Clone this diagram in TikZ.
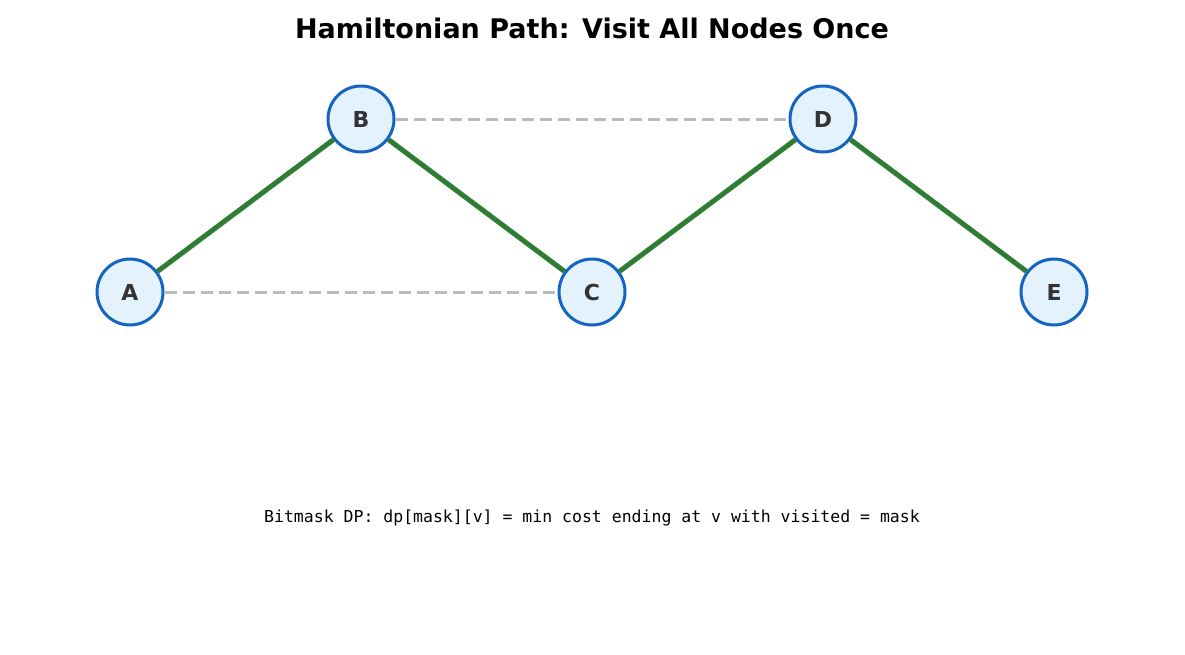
\documentclass[tikz,border=0pt]{standalone}
\usepackage{fontspec}
\setmainfont{DejaVu Sans}
\setmonofont{DejaVu Sans Mono}
\definecolor{nodeb}{HTML}{1565C0}
\definecolor{nodef}{HTML}{E3F2FD}
\definecolor{pathg}{HTML}{2E7D32}
\definecolor{dashg}{HTML}{BBBBBB}
\definecolor{txt}{HTML}{333333}
\begin{document}
\begin{tikzpicture}[x=1pt,y=-1pt,
  vert/.style={circle,draw=nodeb,fill=nodef,line width=3pt,minimum size=66pt,inner sep=0pt,
    font=\fontsize{22}{24}\selectfont\bfseries,text=txt},
  pathedge/.style={draw=pathg,line width=5pt},
  otheredge/.style={draw=dashg,line width=3pt,dash pattern=on 12pt off 6pt}]
\useasboundingbox (0,0) rectangle (1185,654);
\node[font=\fontsize{27}{30}\selectfont\bfseries] (title) at (592,28) {Hamiltonian Path: Visit All Nodes Once};
\node[vert] (A) at (130,292) {A};
\node[vert] (B) at (361,119) {B};
\node[vert] (C) at (592,292) {C};
\node[vert] (D) at (823,119) {D};
\node[vert] (E) at (1054,292) {E};
\begin{scope}[on background layer/.style={}]
\end{scope}
\path[otheredge] (A) -- (C);
\path[otheredge] (B) -- (D);
\path[pathedge] (A) -- (B);
\path[pathedge] (B) -- (C);
\path[pathedge] (C) -- (D);
\path[pathedge] (D) -- (E);
\node[font=\fontsize{16.5}{18}\selectfont\ttfamily] (note) at (592,518) {Bitmask DP: dp[mask][v] = min cost ending at v with visited = mask};
\end{tikzpicture}
\end{document}
